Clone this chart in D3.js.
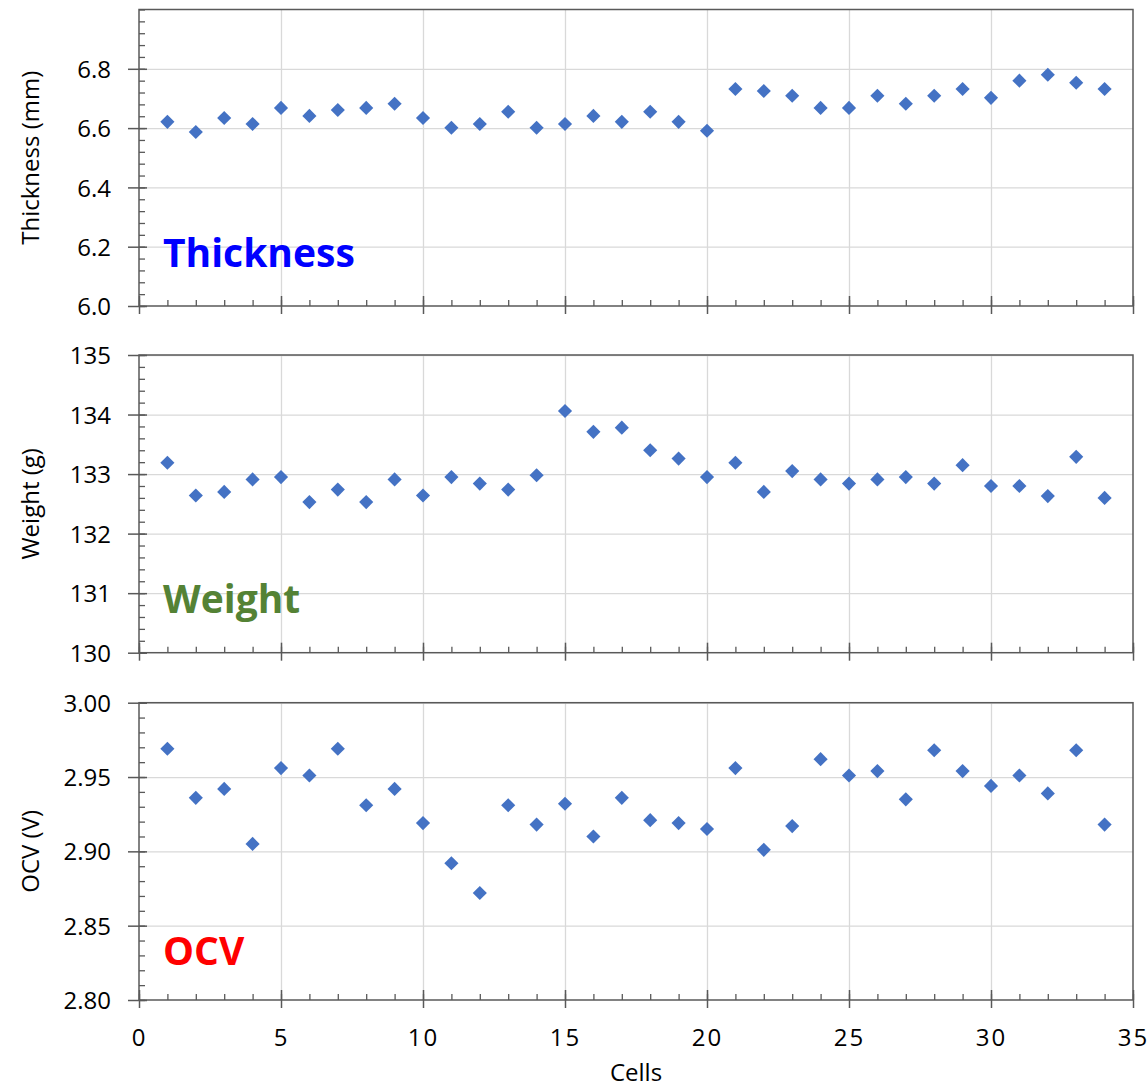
<!DOCTYPE html>
<html>
<head>
<meta charset="utf-8">
<script src="https://cdn.jsdelivr.net/npm/d3@7"></script>
<style>
  body { margin: 0; background: #fff; }
  text { font-family: "Open Sans", sans-serif; }
</style>
</head>
<body>
<div id="chart"></div>
<script>
// cell numbers on the x axis
const cells = [1,2,3,4,5,6,7,8,9,10,11,12,13,14,15,16,17,18,19,20,21,22,23,24,25,26,27,28,29,30,31,32,33,34];

const thickness = [6.621,6.587,6.634,6.614,6.668,6.641,6.661,6.668,6.682,6.634,
                   6.601,6.614,6.655,6.601,6.614,6.641,6.621,6.655,6.621,6.591,
                   6.732,6.725,6.709,6.668,6.668,6.709,6.682,6.709,6.732,6.702,
                   6.760,6.780,6.753,6.732];

const weight = [133.19,132.64,132.70,132.91,132.95,132.53,132.74,132.53,132.91,132.64,
                132.95,132.84,132.74,132.98,134.06,133.71,133.78,133.40,133.26,132.95,
                133.19,132.70,133.05,132.91,132.84,132.91,132.95,132.84,133.15,132.80,
                132.80,132.63,133.29,132.60];

const ocv = [2.969,2.936,2.942,2.905,2.956,2.951,2.969,2.931,2.942,2.919,
             2.892,2.872,2.931,2.918,2.932,2.910,2.936,2.921,2.919,2.915,
             2.956,2.901,2.917,2.962,2.951,2.954,2.935,2.968,2.954,2.944,
             2.951,2.939,2.968,2.918];

const xTicks = [0,5,10,15,20,25,30,35];
const thicknessTicks = [6.0,6.2,6.4,6.6,6.8];
const weightTicks = [130,131,132,133,134,135];
const ocvTicks = [2.80,2.85,2.90,2.95,3.00];

const W = 1148, H = 1089;
const left = 139, right = 1133;

const panels = [
  { values: thickness, domain: [6.0, 7.0], ticks: thicknessTicks, minorStep: 0.04, fmt: d3.format(".1f"),
    top: 9.5, bottom: 306, title: "Thickness (mm)", label: "Thickness", color: "#0000FF", labelY: 267 },
  { values: weight, domain: [130, 135], ticks: weightTicks, minorStep: 0.2, fmt: d3.format("d"),
    top: 355, bottom: 652.7, title: "Weight (g)", label: "Weight", color: "#548235", labelY: 613 },
  { values: ocv, domain: [2.80, 3.00], ticks: ocvTicks, minorStep: 0.01, fmt: d3.format(".2f"),
    top: 702.7, bottom: 1000, title: "OCV (V)", label: "OCV", color: "#FF0000", labelY: 965 }
];

const svg = d3.select("#chart").append("svg")
  .attr("width", W).attr("height", H);

const x = d3.scaleLinear().domain([0, 35]).range([left, right]);
const minorX = d3.range(0, 36);

const diamond = d3.symbol().type(d3.symbolSquare).size(100);

panels.forEach((p, pi) => {
  const y = d3.scaleLinear().domain(p.domain).range([p.bottom, p.top]);
  const h = p.bottom - p.top;
  const g = svg.append("g");

  // grid
  g.append("g")
    .attr("transform", `translate(0,${p.bottom})`)
    .call(d3.axisBottom(x).tickValues(xTicks.filter(d => d > 0 && d < 35)).tickSize(-h).tickFormat(""))
    .call(s => s.select(".domain").remove())
    .selectAll("line").attr("stroke", "#d9d9d9").attr("stroke-width", 1.3);

  g.append("g")
    .attr("transform", `translate(${left},0)`)
    .call(d3.axisLeft(y).tickValues(p.ticks.filter(d => d > p.domain[0])).tickSize(-(right - left)).tickFormat(""))
    .call(s => s.select(".domain").remove())
    .selectAll("line").attr("stroke", "#d9d9d9").attr("stroke-width", 1.3);

  // frame
  g.append("rect")
    .attr("x", left).attr("y", p.top)
    .attr("width", right - left).attr("height", h)
    .attr("fill", "none").attr("stroke", "#595959").attr("stroke-width", 1.5);

  // minor y ticks (inside)
  const minorY = d3.range(Math.round((p.domain[1] - p.domain[0]) / p.minorStep) + 1)
    .map(i => p.domain[0] + i * p.minorStep);
  g.append("g")
    .attr("transform", `translate(${left},0)`)
    .call(d3.axisLeft(y).tickValues(minorY).tickSize(-6).tickFormat(""))
    .call(s => s.select(".domain").remove())
    .selectAll("line").attr("stroke", "#595959").attr("stroke-width", 1.3);

  // major y ticks (crossing) + labels
  const yAxis = g.append("g")
    .attr("transform", `translate(${left},0)`)
    .call(d3.axisLeft(y).tickValues(p.ticks).tickSize(11).tickPadding(17).tickFormat(p.fmt));
  yAxis.select(".domain").remove();
  yAxis.selectAll("line").attr("x1", 8).attr("stroke", "#595959").attr("stroke-width", 1.5);
  yAxis.selectAll("text")
    .attr("dy", "0.36em")
    .style("font-size", "24px").attr("fill", "#000");

  // minor x ticks (inside)
  g.append("g")
    .attr("transform", `translate(0,${p.bottom})`)
    .call(d3.axisBottom(x).tickValues(minorX).tickSize(-6).tickFormat(""))
    .call(s => s.select(".domain").remove())
    .selectAll("line").attr("stroke", "#595959").attr("stroke-width", 1.3);

  // major x ticks (crossing)
  const xAxis = g.append("g")
    .attr("transform", `translate(0,${p.bottom})`)
    .call(d3.axisBottom(x).tickValues(xTicks).tickSize(8).tickPadding(20)
      .tickFormat(pi === 2 ? d3.format("d") : ""));
  xAxis.select(".domain").remove();
  xAxis.selectAll("line").attr("y1", -10).attr("stroke", "#595959").attr("stroke-width", 1.5);
  xAxis.selectAll("text")
    .attr("dy", 0).attr("y", 46)
    .style("font-size", "24px").style("letter-spacing", "2px").attr("fill", "#000");

  // points
  g.append("g").selectAll("path")
    .data(p.values)
    .enter().append("path")
    .attr("d", diamond)
    .attr("transform", (d, i) => `translate(${x(cells[i])},${y(d)}) rotate(45)`)
    .attr("fill", "#4472C4");

  // y axis title
  g.append("text")
    .attr("transform", `translate(39,${(p.top + p.bottom) / 2}) rotate(-90)`)
    .attr("text-anchor", "middle")
    .style("font-size", "24px").attr("fill", "#000")
    .text(p.title);

  // big panel label
  g.append("text")
    .attr("x", 163).attr("y", p.labelY)
    .style("font-size", "39px").style("font-weight", "bold")
    .attr("fill", p.color)
    .text(p.label);
});

svg.append("text")
  .attr("x", (left + right) / 2).attr("y", 1081)
  .attr("text-anchor", "middle")
  .style("font-size", "24px").attr("fill", "#000")
  .text("Cells");
</script>
</body>
</html>
